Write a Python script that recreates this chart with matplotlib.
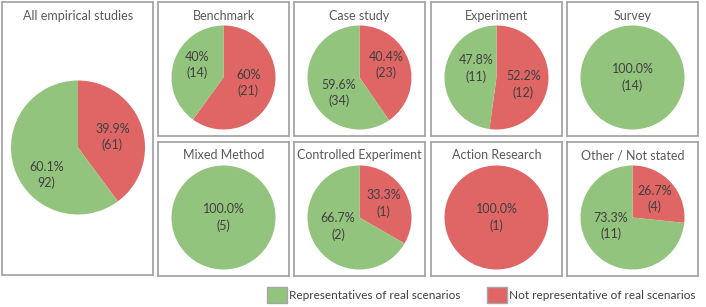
import matplotlib.pyplot as plt
from matplotlib.patches import Patch

W, H = 706, 307

# Dados
titulos = ["All empirical studies", "Benchmark", "Case study", "Experiment", "Survey",
           "Mixed Method", "Controlled Experiment", "Action Research", "Other / Not stated"]
nao_repr = [61, 21, 23, 12, 0, 0, 1, 1, 4]
repr_real = [92, 14, 34, 11, 14, 5, 2, 0, 11]
rotulos_nao = ["39.9%\n(61)", "60%\n(21)", "40.4%\n(23)", "52.2%\n(12)", "",
               "", "33.3%\n(1)", "100.0%\n(1)", "26.7%\n(4)"]
rotulos_repr = ["60.1%\n92)", "40%\n(14)", "59.6%\n(34)", "47.8%\n(11)", "100.0%\n(14)",
                "100.0%\n(5)", "66.7%\n(2)", "", "73.3%\n(11)"]
legenda = ["Representatives of real scenarios", "Not representative of real scenarios"]

verde = "#93c47d"
vermelho = "#e06666"
borda = "#a6a6a6"
cor_titulo = "#595959"
cor_texto = "#404040"

# ajuste fino dos rótulos (px, y para baixo), ordem [vermelho, verde]
ajuste = {0: [(0, 1), (3, 16)],
          1: [(-2, -3), (0, -4)],
          2: [(0, -4), (6, 7)],
          3: [(-1, 5), (8, -7)],
          6: [(0, 0), (3, -5)],
          8: [(1, 0), (-1, -10)]}

plt.rcParams['font.family'] = ['Lato', 'DejaVu Sans']

fig = plt.figure(figsize=(W / 100, H / 100), dpi=100)


def caixa(x, y, w, h):
    ax = fig.add_axes([x / W, 1 - (y + h) / H, w / W, h / H])
    return ax


def pizza(ax, i, w, h, cx, cy, r, ty):
    vals, cores, rots = [], [], []
    for v, c, t in ((nao_repr[i], vermelho, rotulos_nao[i]), (repr_real[i], verde, rotulos_repr[i])):
        if v > 0:
            vals.append(v)
            cores.append(c)
            rots.append(t)
    ld = 0.0 if len(vals) == 1 else 0.54
    wedges, texts = ax.pie(vals, colors=cores, labels=rots, startangle=90, counterclock=False,
                           center=(cx, -cy), radius=r, labeldistance=ld, frame=True,
                           wedgeprops=dict(linewidth=0),
                           textprops=dict(color=cor_texto, fontsize=9, ha='center', va='center',
                                          linespacing=1.35))
    if i in ajuste and len(texts) == 2:
        for t, (dx, dy) in zip(texts, ajuste[i]):
            x0, y0 = t.get_position()
            t.set_position((x0 + dx, y0 - dy))
    ax.set_xlim(0, w)
    ax.set_ylim(-h, 0)
    ax.set_aspect('auto')
    ax.set_xticks([])
    ax.set_yticks([])
    for s in ax.spines.values():
        s.set_color(borda)
        s.set_linewidth(1.3)
    ax.text(cx, -ty, titulos[i], color=cor_titulo, fontsize=9, ha='center', va='center')


# painel grande
ax = caixa(2, 2, 151, 273)
pizza(ax, 0, 151, 273, 76, 145.5, 67, 14)

col_x = [158, 294, 431, 567]
lin_y = [2, 142]
bw, bh = 131, 134
for k in range(8):
    lin, col = divmod(k, 4)
    ax = caixa(col_x[col], lin_y[lin], bw, bh)
    pizza(ax, k + 1, bw, bh, bw / 2, 75.5, 52, 14 if lin == 0 else 13)

handles = [Patch(facecolor=verde, edgecolor=borda, linewidth=1),
           Patch(facecolor=vermelho, edgecolor=borda, linewidth=1)]
fig.legend(handles, legenda, loc='center left', bbox_to_anchor=(267 / W, 1 - 295 / H),
           ncol=2, frameon=False, fontsize=8.5, handlelength=1.7, handleheight=1.7,
           handletextpad=0.2, columnspacing=2.2, labelcolor=cor_texto, borderpad=0,
           borderaxespad=0)

fig.savefig("out.png", dpi=100)
